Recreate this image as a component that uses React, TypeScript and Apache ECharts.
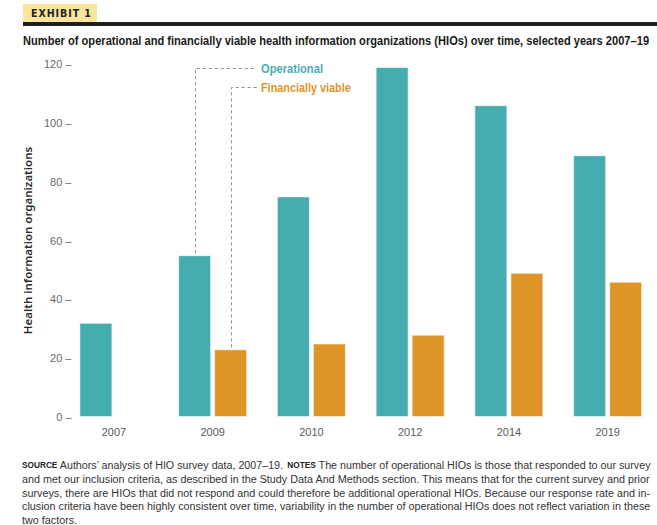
import React, { useEffect, useRef } from "react";
import * as echarts from "echarts";

// HIO counts by survey year
const years = ["2007", "2009", "2010", "2012", "2014", "2019"];
const operational = [32, 55, 75, 119, 106, 89];
const financiallyViable: (number | null)[] = [null, 23, 25, 28, 49, 46];

const yMin = 0;
const yMax = 120;
const yStep = 20;

const exhibitLabel = "EXHIBIT 1";
const chartTitle =
  "Number of operational and financially viable health information organizations (HIOs) over time, selected years 2007–19";
const yAxisTitle = "Health information organizations";
const seriesNames = ["Operational", "Financially viable"];

// Each footer line is a list of [text, isSmallCapsLabel] pieces
const footerLines: [string, boolean][][] = [
  [
    ["SOURCE", true],
    [" Authors’ analysis of HIO survey data, 2007–19. ", false],
    ["NOTES", true],
    [" The number of operational HIOs is those that responded to our survey", false],
  ],
  [["and met our inclusion criteria, as described in the Study Data And Methods section. This means that for the current survey and prior", false]],
  [["surveys, there are HIOs that did not respond and could therefore be additional operational HIOs. Because our response rate and in-", false]],
  [["clusion criteria have been highly consistent over time, variability in the number of operational HIOs does not reflect variation in these", false]],
  [["two factors.", false]],
];

const TEAL = "#45adb0";
const ORANGE = "#df9428";
const SANS = "Liberation Sans";

const BAR_W = 33;
const BAR_GAP = 3;

let measureCtx: CanvasRenderingContext2D | null = null;
function measure(text: string, size: number, weight: string | number = "normal", family = SANS) {
  if (!measureCtx) measureCtx = document.createElement("canvas").getContext("2d");
  if (!measureCtx) return text.length * size * 0.5;
  measureCtx.font = `${weight} ${size}px "${family}"`;
  return measureCtx.measureText(text).width;
}

export default function App() {
  const ref = useRef<HTMLDivElement>(null);

  useEffect(() => {
    if (!ref.current) return;
    const chart = echarts.init(ref.current, undefined, { renderer: "svg" });

    chart.setOption({
      animation: false,
      backgroundColor: "#ffffff",
      grid: { left: 64.5, top: 64, width: 600, height: 353 },
      xAxis: {
        type: "category",
        data: years,
        axisLine: { show: false },
        axisTick: { show: false },
        axisLabel: { margin: 9, color: "#5a5a5a", fontSize: 11, fontFamily: SANS },
      },
      yAxis: {
        type: "value",
        min: yMin,
        max: yMax,
        interval: yStep,
        name: yAxisTitle,
        nameLocation: "middle",
        nameRotate: 90,
        nameGap: 28,
        nameTextStyle: { color: "#2a2a2a", fontSize: 11.5, fontWeight: 600, fontFamily: "'Noto Sans', sans-serif" },
        axisLine: { show: false },
        axisTick: { show: false },
        axisLabel: {
          margin: -7,
          color: "#6a6a6a",
          fontSize: 11,
          fontFamily: SANS,
          formatter: (v: number) => `${v} –`,
        },
        splitLine: { show: false },
      },
      series: [
        {
          name: seriesNames[0],
          type: "bar",
          data: operational,
          barWidth: BAR_W,
          barGap: `${(BAR_GAP / BAR_W) * 100}%`,
          itemStyle: { color: TEAL, borderColor: "rgba(255,255,255,0.55)", borderWidth: 1 },
        },
        {
          name: seriesNames[1],
          type: "bar",
          data: financiallyViable,
          barWidth: BAR_W,
          itemStyle: { color: ORANGE, borderColor: "rgba(255,255,255,0.55)", borderWidth: 1 },
        },
      ],
    });

    // Leader lines from the 2009 bars to their series names
    const half = (BAR_W + BAR_GAP) / 2;
    const opTop = chart.convertToPixel({ gridIndex: 0 }, [1, operational[1]]) as number[];
    const fvTop = chart.convertToPixel({ gridIndex: 0 }, [1, financiallyViable[1] as number]) as number[];
    const opX = Math.round(opTop[0] - half) + 0.5;
    const fvX = Math.round(fvTop[0] + half) + 0.5;
    const labelX = 261;
    const opY = 68.5;
    const fvY = 87.5;
    const dash = { stroke: "#8c8c8c", lineWidth: 1, lineDash: [3, 3], fill: null };

    // Footer: justified lines squeezed to the text column width
    const FOOT_SIZE = 11;
    const KEY_SIZE = 8.5;
    const COL_W = 629;
    const lineWidth = (parts: [string, boolean][]) =>
      parts.reduce((s, [t, k]) => s + (k ? measure(t, KEY_SIZE, "bold") : measure(t, FOOT_SIZE)), 0);
    const fullScale = COL_W / lineWidth(footerLines[1]);
    const footer = footerLines.map((parts, i) => {
      const last = i === footerLines.length - 1;
      const sx = last ? fullScale : COL_W / lineWidth(parts);
      return {
        type: "text",
        x: 22,
        y: 465 + i * 13.8,
        scaleX: sx,
        style: {
          text: parts.map(([t, k]) => (k ? `{k|${t}}` : `{n|${t}}`)).join(""),
          verticalAlign: "middle",
          rich: {
            n: { fontSize: FOOT_SIZE, fontFamily: SANS, fill: "#333" },
            k: { fontSize: KEY_SIZE, fontWeight: "bold", fill: "#222", fontFamily: SANS },
          },
        },
      };
    });

    const titleSize = 12.5;
    const titleScale = 627 / measure(chartTitle, titleSize, "bold");
    const legSize = 12.5;
    const opScale = 62 / measure(seriesNames[0], legSize, "bold");
    const fvScale = 90 / measure(seriesNames[1], legSize, "bold");
    const exSpaced = exhibitLabel.split("").join("\u200a");
    const exScale = 60 / measure(exSpaced, 10, "bold", "DejaVu Sans");

    chart.setOption({
      graphic: [
        { type: "rect", shape: { x: 23, y: 4, width: 74, height: 18 }, style: { fill: "#fbe59c" } },
        {
          type: "text",
          x: 31,
          y: 13.5,
          scaleX: exScale,
          style: {
            text: exSpaced,
            fontSize: 10,
            fontWeight: "bold",
            fontFamily: "DejaVu Sans",
            fill: "#222",
            verticalAlign: "middle",
          },
        },
        { type: "rect", shape: { x: 23, y: 22, width: 634, height: 4 }, style: { fill: "#1e1e1e" } },
        {
          type: "text",
          x: 23,
          y: 41,
          scaleX: titleScale,
          style: {
            text: chartTitle,
            fontSize: titleSize,
            fontWeight: "bold",
            fontFamily: SANS,
            fill: "#1a1a1a",
            verticalAlign: "middle",
          },
        },
        {
          type: "polyline",
          shape: { points: [[opX, opTop[1] - 2], [opX, opY], [labelX - 4, opY]] },
          style: dash,
        },
        {
          type: "polyline",
          shape: { points: [[fvX, fvTop[1] - 2], [fvX, fvY], [labelX - 4, fvY]] },
          style: dash,
        },
        {
          type: "text",
          x: labelX,
          y: opY,
          scaleX: opScale,
          style: { text: seriesNames[0], fill: TEAL, fontSize: legSize, fontWeight: "bold", fontFamily: SANS, verticalAlign: "middle" },
        },
        {
          type: "text",
          x: labelX,
          y: fvY,
          scaleX: fvScale,
          style: { text: seriesNames[1], fill: ORANGE, fontSize: legSize, fontWeight: "bold", fontFamily: SANS, verticalAlign: "middle" },
        },
        ...footer,
      ],
    });

    return () => chart.dispose();
  }, []);

  return (
    <div
      ref={ref}
      style={{ position: "fixed", left: 0, top: 0, width: 657, height: 525, background: "#fff" }}
    />
  );
}
